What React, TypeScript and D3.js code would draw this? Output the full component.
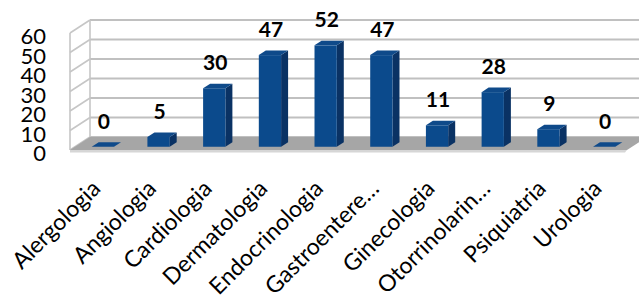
import { useEffect, useRef } from 'react'
import * as d3 from 'd3'

const categories = ['Alergologia', 'Angiologia', 'Cardiologia', 'Dermatologia', 'Endocrinologia', 'Gastroentere…', 'Ginecologia', 'Otorrinolarin…', 'Psiquiatria', 'Urologia']
const values = [0, 5, 30, 47, 52, 47, 11, 28, 9, 0]
const yTicks = [0, 10, 20, 30, 40, 50, 60]

const W = 639
const H = 300
const FONT = 'Lato, "Open Sans", sans-serif'

export default function App() {
  const svgRef = useRef<SVGSVGElement>(null)

  useEffect(() => {
    const svg = d3.select(svgRef.current)
    svg.selectAll('*').remove()

    // front plane of the 3D box, depth offset to the back wall
    const x0 = 70, x1 = 627
    const depth = { dx: 20, dy: -13 }
    const x = d3.scalePoint<string>().domain(categories).range([x0, x1]).padding(0.5)
    const y = d3.scaleLinear().domain([0, 60]).range([150, 33])
    const step = x.step()
    const bw = step * 0.4
    const off = (t: number) => [depth.dx * t, depth.dy * t]
    const pts = (a: number[][]) => a.map(p => p.join(',')).join(' ')

    const [bx, by] = off(1)
    const g = svg.append('g')

    // side wall
    g.append('polygon')
      .attr('points', pts([[x0, y(0)], [x0, y(60)], [x0 + bx, y(60) + by], [x0 + bx, y(0) + by]]))
      .attr('fill', '#fff')
    // back wall
    g.append('rect').attr('x', x0 + bx).attr('y', y(60) + by)
      .attr('width', W - x0 - bx + 20).attr('height', y(0) - y(60)).attr('fill', '#fff')

    // gridlines on side and back walls
    yTicks.forEach(v => {
      g.append('line').attr('x1', x0).attr('y1', y(v)).attr('x2', x0 + bx).attr('y2', y(v) + by)
        .attr('stroke', '#c6c6c6').attr('stroke-width', 1.6)
      g.append('line').attr('x1', x0 + bx).attr('y1', y(v) + by).attr('x2', W + 20).attr('y2', y(v) + by)
        .attr('stroke', '#c0c0c0').attr('stroke-width', 2)
    })
    g.append('line').attr('x1', x0).attr('y1', y(0)).attr('x2', x0).attr('y2', y(60))
      .attr('stroke', '#c6c6c6').attr('stroke-width', 1.6)
    g.append('line').attr('x1', x0 + bx).attr('y1', y(0) + by).attr('x2', x0 + bx).attr('y2', y(60) + by)
      .attr('stroke', '#c6c6c6').attr('stroke-width', 1.6)

    // floor
    g.append('polygon')
      .attr('points', pts([[x0, y(0)], [x0 + bx, y(0) + by], [x1 + bx, y(0) + by], [x1, y(0)]]))
      .attr('fill', '#a6a6a6')
    g.append('polygon')
      .attr('points', pts([[x0, y(0)], [x1, y(0)], [x1 - 2, y(0) + 2.5], [x0, y(0) + 2.5]]))
      .attr('fill', '#d6d6d6')

    // bars
    const d1 = 0.25, d2 = 0.6
    const [fx, fy] = off(d1)
    const [kx, ky] = off(d2 - d1)
    categories.forEach((c, i) => {
      const v = values[i]
      const left = (x(c) as number) - bw / 2 + fx
      const bot = y(0) + fy
      const top = y(v) + fy
      const bar = g.append('g')
      bar.append('polygon')
        .attr('points', pts([[left + bw, bot], [left + bw, top], [left + bw + kx, top + ky], [left + bw + kx, bot + ky]]))
        .attr('fill', '#0a3264')
      bar.append('polygon')
        .attr('points', pts([[left, top], [left + bw, top], [left + bw + kx, top + ky], [left + kx, top + ky]]))
        .attr('fill', '#0f4a8a')
      if (v > 0) {
        bar.append('rect').attr('x', left).attr('y', top).attr('width', bw).attr('height', bot - top)
          .attr('fill', '#0b4a8c')
      }
      g.append('text')
        .attr('x', left + bw / 2 + 1).attr('y', top + ky - 13.5)
        .attr('text-anchor', 'middle')
        .attr('font-family', FONT).attr('font-weight', 700).attr('font-size', 21)
        .attr('fill', '#000')
        .text(v)
    })

    // y axis labels
    yTicks.forEach(v => {
      g.append('text')
        .attr('x', 46).attr('y', y(v) + 2.5)
        .attr('dominant-baseline', 'central')
        .attr('text-anchor', 'end')
        .attr('font-family', FONT).attr('font-size', 22)
        .attr('fill', '#000')
        .text(v)
    })

    // category labels
    categories.forEach(c => {
      const cx = (x(c) as number) + fx
      g.append('text')
        .attr('transform', `translate(${cx - 1},${190}) rotate(-45)`)
        .attr('text-anchor', 'end')
        .attr('font-family', FONT).attr('font-size', 23)
        .attr('fill', '#000')
        .text(c)
    })
  }, [])

  return (
    <svg ref={svgRef} width={W} height={H}
      style={{ position: 'absolute', left: 0, top: 0, display: 'block', background: '#fff' }} />
  )
}
